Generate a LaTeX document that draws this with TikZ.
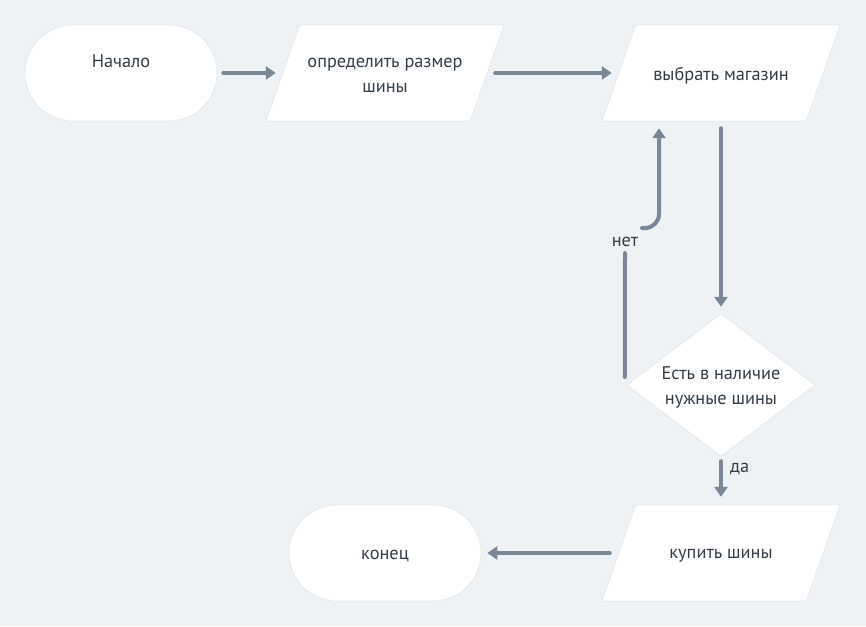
\documentclass[tikz,border=0pt]{standalone}
\usepackage{fontspec}
\setmainfont{PT Sans}
\usetikzlibrary{arrows.meta,backgrounds,calc}
\definecolor{bg}{HTML}{EFF2F5}
\definecolor{ln}{HTML}{7A8796}
\definecolor{tx}{HTML}{333D47}
\definecolor{edge}{HTML}{E2E6EA}
\begin{document}
\begin{tikzpicture}[x=1pt,y=-1pt,
  txt/.style={font=\fontsize{18.3}{25}\selectfont, text=tx, align=center, inner sep=0},
  term/.style={rectangle, rounded corners=47.9pt, fill=white, draw=edge, line width=0.6pt, minimum width=192pt, minimum height=96pt, inner sep=0},
  pbox/.style={rectangle, minimum width=204pt, minimum height=96pt, inner sep=0},
  dbox/.style={rectangle, minimum width=188pt, minimum height=142pt, inner sep=0},
  shapefill/.style={fill=white, draw=edge, line width=0.6pt},
  conn/.style={draw=ln, line width=4pt, line cap=round},
  arr/.style={conn, -{Triangle[length=10pt,width=13pt]}},
  lab/.style={font=\fontsize{18.3}{20}\selectfont, text=tx, inner sep=1pt}]
\useasboundingbox (0,0) rectangle (866,626);
% shapes
\node[term] (st) at (121,73) {};
\node[pbox] (s1) at (385,73) {};
\node[pbox] (s2) at (721,73) {};
\node[dbox] (d) at (721,385) {};
\node[pbox] (s4) at (721,553) {};
\node[term] (en) at (385,553) {};
\begin{scope}[on background layer]
\fill[bg] (0,0) rectangle (866,626);
\foreach \n in {s1,s2,s4}
  \filldraw[shapefill, rounded corners=2pt] ($(\n.north west)+(17,0)$) -- ($(\n.north east)+(17,0)$) -- ($(\n.south east)+(-17,0)$) -- ($(\n.south west)+(-17,0)$) -- cycle;
\filldraw[shapefill, rounded corners=1pt] (d.north) -- (d.east) -- (d.south) -- (d.west) -- cycle;
\end{scope}
% texts
\node[txt] (st-t) at ([yshift=12pt]st.center) {Начало};
\node[txt] (s1-t) at ([yshift=-2.5pt]s1.center) {определить размер\\шины};
\node[txt] (s2-t) at ([yshift=-2.5pt]s2.center) {выбрать магазин};
\node[txt] (d-t) at ([yshift=-2pt]d.center) {Есть в наличие\\нужные шины};
\node[txt] (s4-t) at ([yshift=-2.5pt]s4.center) {купить шины};
\node[txt] (en-t) at ([yshift=-2.5pt]en.center) {конец};
% connectors
\draw[arr, shorten <=6pt, shorten >=7pt] (st.east) -- (s1.west);
\draw[arr, shorten <=8pt, shorten >=7pt] (s1.east) -- (s2.west);
\draw[arr, shorten <=7pt, shorten >=7pt] (s2.south) -- (d.north);
\draw[arr, shorten <=5pt, shorten >=8pt] (d.south) -- (s4.north);
\node[lab, anchor=west] (yes) at (729,469) {да};
\draw[arr, shorten <=9pt, shorten >=6pt] (s4.west) -- (en.east);
\coordinate (nA) at (625,253);
\coordinate (nB) at (642,228);
\node[lab] (no) at (625,242) {нет};
\draw[conn] ([shift={(-2,-8)}]d.west) -- (nA);
\draw[arr, rounded corners=14pt] (nB) -| ([shift={(-62,7)}]s2.south);
\end{tikzpicture}
\end{document}
